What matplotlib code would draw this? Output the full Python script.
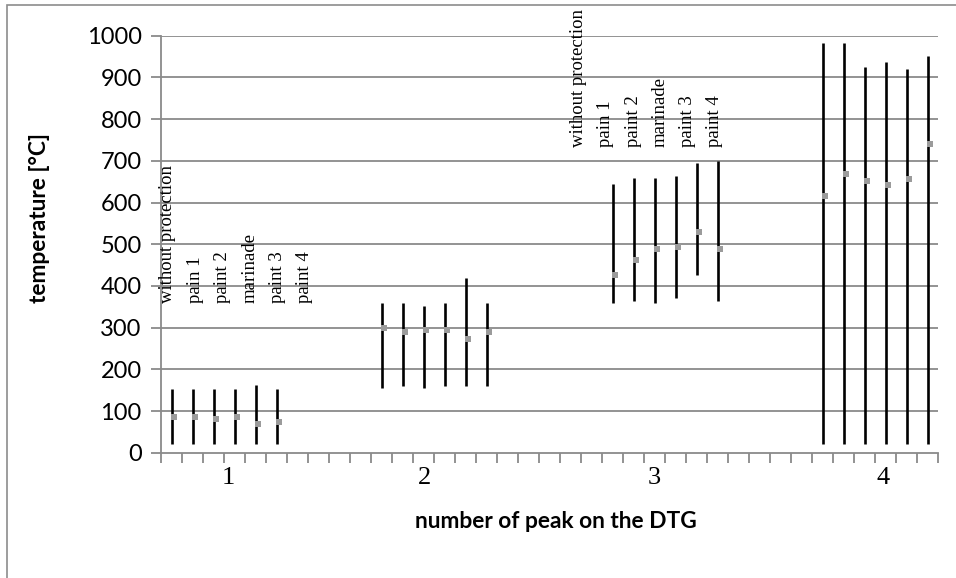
import matplotlib
matplotlib.use('Agg')
import matplotlib.pyplot as plt
import matplotlib.transforms as mtransforms
from matplotlib.patches import Rectangle
import numpy as np

# treatments, same order in every peak group
treatments = ['without protection', 'pain 1', 'paint 2', 'marinade', 'paint 3', 'paint 4']
peaks = ['1', '2', '3', '4']

# category slot of the first bar of each peak (37 slots on the axis)
group_start = [0, 10, 21, 31]
n_slots = 37

# temperature ranges [°C] per peak: upper end, lower end, peak temperature
high = [
    [153, 153, 153, 153, 163, 153],
    [358, 358, 352, 358, 418, 358],
    [644, 658, 658, 664, 695, 700],
    [982, 982, 926, 936, 921, 951],
]
low = [
    [20, 20, 20, 20, 20, 20],
    [154, 159, 154, 159, 159, 159],
    [358, 364, 358, 370, 425, 364],
    [21, 21, 21, 21, 21, 21],
]
peak_t = [
    [85, 85, 80, 85, 69, 74],
    [299, 289, 294, 294, 273, 289],
    [426, 463, 488, 494, 530, 488],
    [616, 668, 652, 642, 657, 740],
]

# rotated treatment names drawn above peaks 1 and 3
label_groups = [0, 2]
label_x0 = [-0.17, 19.38]
label_step = 1.3
label_y = [359, 734]
peak_label_x = [2.69, 12.05, 23.0, 33.9]

W, H = 956, 578
fig = plt.figure(figsize=(W / 100, H / 100), dpi=100)
fig.patch.set_facecolor('white')

# chart area border (only left and top edges fall inside the image)
fig.patches.append(Rectangle((7 / W, -0.1), 1.2, 1 - 5 / H + 0.1, transform=fig.transFigure,
                             fill=False, edgecolor='#8c8c8c', linewidth=1.2))

ax = fig.add_axes([161 / W, 1 - 452.7 / H, (938 - 161) / W, (452.7 - 35.7) / H])
ax.set_xlim(-0.5, n_slots - 0.5)
ax.set_ylim(0, 1000)

grid_c = '#8a8a8a'
ax.set_yticks(np.arange(0, 1001, 100))
ax.set_xticks(np.arange(-0.5, n_slots, 1))
ax.set_xticklabels([])
for y in np.arange(100, 1001, 100):
    ax.axhline(y, color=grid_c, linewidth=1.3, zorder=1)
for s in ['top', 'right']:
    ax.spines[s].set_visible(False)
for s in ['left', 'bottom']:
    ax.spines[s].set_color(grid_c)
    ax.spines[s].set_linewidth(1.3)
ax.tick_params(axis='both', color=grid_c, width=1.3, length=7, direction='out')
ax.tick_params(axis='y', labelsize=17, pad=7)
for t in ax.get_yticklabels():
    t.set_family('Lato')

for g in range(len(peaks)):
    xs = group_start[g] + np.arange(len(treatments))
    ax.vlines(xs, low[g], high[g], color='black', linewidth=1.9, zorder=3)
    ax.plot(xs + 0.12, peak_t[g], ls='', marker='s', markersize=4.2,
            color='#9b9b9b', markeredgewidth=0, zorder=4)

for k, g in enumerate(label_groups):
    for i, name in enumerate(treatments):
        ax.text(label_x0[k] + i * label_step, label_y[k], name, rotation=90,
                ha='center', va='bottom', family='Liberation Serif', fontsize=13.5,
                zorder=5)

trans = mtransforms.blended_transform_factory(ax.transData, ax.transAxes)
for g, lab in enumerate(peaks):
    ax.text(peak_label_x[g], -0.061, lab, transform=trans, ha='center', va='center',
            family='Liberation Serif', fontsize=19)

ax.set_xlabel('number of peak on the DTG', family='Lato', fontweight='bold', fontsize=16.4)
ax.xaxis.set_label_coords(0.508, -0.164)
ax.xaxis.label.set_va('center')
ax.set_ylabel('temperature [°C]', family='Lato', fontweight='bold', fontsize=16.4)
ax.yaxis.set_label_coords(-0.156, 0.563)
ax.yaxis.label.set_va('center')

fig.savefig('out.png', dpi=100)
